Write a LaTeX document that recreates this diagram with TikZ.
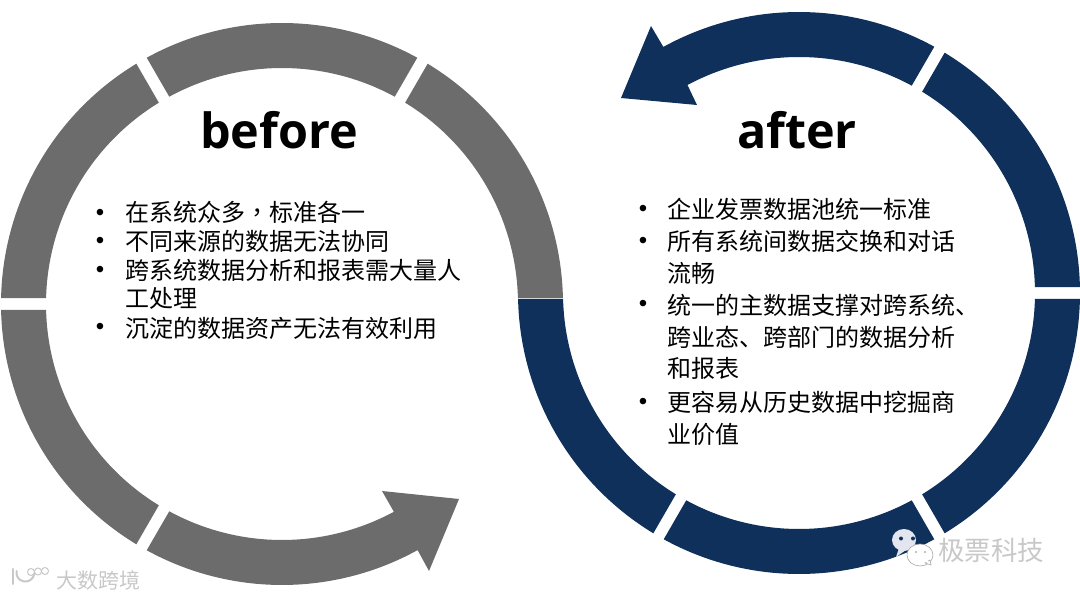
\documentclass[tikz,border=0pt]{standalone}
\usepackage{fontspec}
\setmainfont{Noto Sans CJK SC}
\newfontfamily\latinbold{Open Sans}[BoldFont={Open Sans Bold}]
\newfontfamily\tcfont{Noto Sans CJK TC}
\newfontfamily\bulletfont{Liberation Sans}
\definecolor{ringgray}{HTML}{6C6C6C}
\definecolor{ringnavy}{HTML}{10305C}
\definecolor{markgray}{HTML}{C8C8C8}
\definecolor{bubble}{HTML}{E3E6EE}
% #1 colour, #2 cx, #3 cy (image y), #4 start angle, #5 end angle
\newcommand{\ringseg}[5]{%
  \pgfmathsetmacro{\oo}{asin(6/281)}\pgfmathsetmacro{\ii}{asin(6/236)}%
  \pgfmathsetmacro{\cyy}{598-#3}%
  \fill[#1] ([shift={(#2pt,\cyy pt)}]{#4+\oo}:281pt)
    arc[start angle={#4+\oo},end angle={#5-\oo},radius=281pt]
    -- ([shift={(#2pt,\cyy pt)}]{#5-\ii}:236pt)
    arc[start angle={#5-\ii},end angle={#4+\ii},radius=236pt] -- cycle;}
\tikzset{
  x=1pt,y=1pt,
  titletext/.style={anchor=base,font=\latinbold\fontsize{48.5}{50}\selectfont\bfseries,text=black,inner sep=0pt},
  bodytext/.style={anchor=base west,font=\fontsize{24}{24}\selectfont,text=black,inner sep=0pt},
  bullettext/.style={anchor=base,font=\bulletfont\fontsize{24}{24}\selectfont,text=black,inner sep=0pt},
  marktext/.style={anchor=base west,text=markgray,inner sep=0pt},
}
\begin{document}
\begin{tikzpicture}
\useasboundingbox (0,0) rectangle (1080,598);
% left ring
\ringseg{ringgray}{282}{304}{0}{60}
\ringseg{ringgray}{282}{304}{60}{120}
\ringseg{ringgray}{282}{304}{120}{180}
\ringseg{ringgray}{282}{304}{180}{240}
\fill[ringgray]
  ([shift={(282pt,294pt)}]{240+1.22}:281pt)
  arc[start angle={240+1.22},end angle=298.8,radius=281pt]
  -- (417,49) -- (429,27) -- (459,99) -- (382,107) -- (394,86)
  -- ([shift={(282pt,294pt)}]298.2:236pt)
  arc[start angle=298.2,end angle={240+1.46},radius=236pt] -- cycle;
% right ring
\ringseg{ringnavy}{799}{293}{-60}{0}
\ringseg{ringnavy}{799}{293}{0}{60}
\ringseg{ringnavy}{799}{293}{-120}{-60}
\ringseg{ringnavy}{799}{293}{-180}{-120}
\fill[ringnavy]
  ([shift={(799pt,305pt)}]{60+1.22}:281pt)
  arc[start angle={60+1.22},end angle=118.8,radius=281pt]
  -- (664,550) -- (651,572) -- (621,500) -- (697,493) -- (687,514)
  -- ([shift={(799pt,305pt)}]118.2:236pt)
  arc[start angle=118.2,end angle={60+1.46},radius=236pt] -- cycle;
% titles
\node[titletext] (tb) at (279,449) {before};
\node[titletext] (ta) at (797,449) {after};
% left list
\node[bullettext] (lb1) at (100,377) {•};
\node[bodytext] (l1) at (125,376) {在系统众多{\tcfont ，}标准各一};
\node[bullettext] (lb2) at (100,349) {•};
\node[bodytext] (l2) at (125,347) {不同来源的数据无法协同};
\node[bullettext] (lb3) at (100,320) {•};
\node[bodytext] (l3) at (125,318) {跨系统数据分析和报表需大量人};
\node[bodytext] (l3b) at (125,290) {工处理};
\node[bullettext] (lb4) at (100,263) {•};
\node[bodytext] (l4) at (125,260) {沉淀的数据资产无法有效利用};
% right list
\node[bullettext] (rb1) at (643,381) {•};
\node[bodytext] (r1) at (667,379) {企业发票数据池统一标准};
\node[bullettext] (rb2) at (643,349) {•};
\node[bodytext] (r2) at (667,347) {所有系统间数据交换和对话};
\node[bodytext] (r2b) at (667,315) {流畅};
\node[bullettext] (rb3) at (643,286) {•};
\node[bodytext] (r3) at (667,283) {统一的主数据支撑对跨系统、};
\node[bodytext] (r3b) at (667,251) {跨业态、跨部门的数据分析};
\node[bodytext] (r3c) at (667,220) {和报表};
\node[bullettext] (rb4) at (643,189) {•};
\node[bodytext] (r4) at (667,186) {更容易从历史数据中挖掘商};
\node[bodytext] (r4b) at (667,155) {业价值};
% watermark right
\fill[bubble] (904,58) ellipse (12 and 11);
\fill[bubble] (899,50) -- (896,41) -- (906,48) -- cycle;
\fill[ringnavy] (901,59.5) circle (2);
\fill[ringnavy] (913,59.5) circle (2);
\filldraw[fill=white,draw=gray!70,line width=0.6pt] (920,43) ellipse (13 and 11);
\filldraw[fill=white,draw=gray!70,line width=0.6pt] (925,35) -- (931,33) -- (930,38) -- cycle;
\fill[white] (922,36) -- (928,36) -- (927,40) -- (922,40) -- cycle;
\fill[gray!60] (916,46) circle (1.1);
\fill[gray!60] (925,46) circle (1.1);
\node[marktext,font=\fontsize{26.5}{26.5}\selectfont] (wm2) at (938,38) {极票科技};
% watermark left
\draw[markgray,line width=2pt,line cap=round] (13,29) -- (13,14);
\draw[markgray,line width=2pt,line cap=round] (16.5,27) arc[start angle=170,end angle=350,radius=9pt];
\draw[markgray,line width=1pt] (31,26) circle (3.5);
\draw[markgray,line width=1pt] (38,26.5) circle (3.5);
\draw[markgray,line width=1pt] (45,27) circle (3.5);
\node[marktext,font=\fontsize{21}{21}\selectfont] (wm1) at (56,10) {大数跨境};
\end{tikzpicture}
\end{document}
